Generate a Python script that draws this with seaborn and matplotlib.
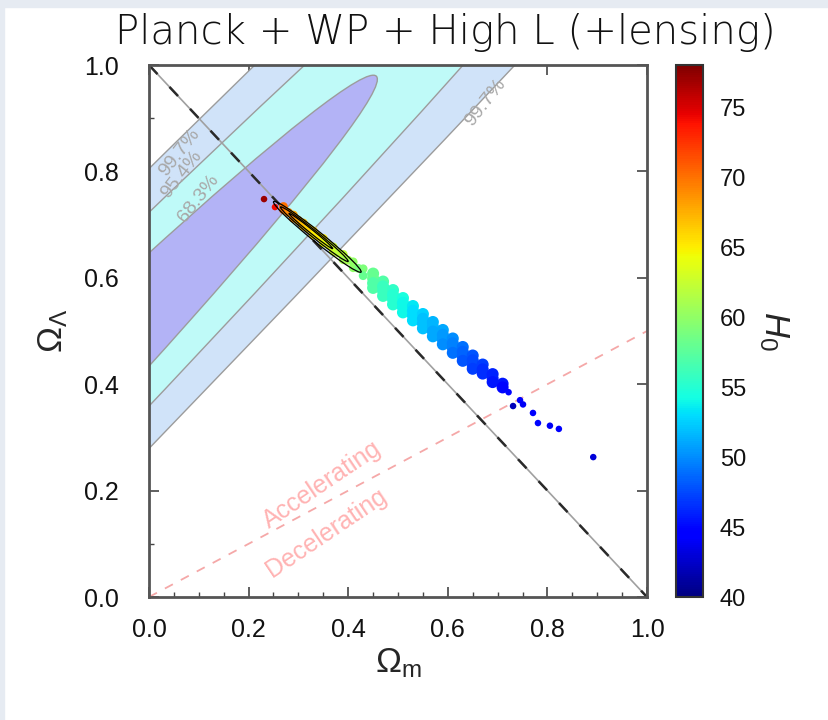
import matplotlib
matplotlib.use("Agg")
import matplotlib.pyplot as plt
import matplotlib.patches as mpatches
import seaborn as sns
import numpy as np
from matplotlib.colors import Normalize
from matplotlib.cm import ScalarMappable
from matplotlib.ticker import MultipleLocator

# confidence regions (data coords): centre, full widths, angle
conf_labels = ["99.7%", "95.4%", "68.3%"]
conf_colors = ["#d0e3f9", "#bffaf8", "#b3b3f6"]
conf_center = (-0.994, -0.398)
conf_width = [9.44, 6.02, 4.0]
conf_height = [0.399, 0.297, 0.212]
conf_angle = [43.5, 43.5, 43.5]

# flat universe and q0 = 0 lines
flat_om = [0.0, 1.0]
flat_ol = [1.0, 0.0]
acc_om = [0.0, 1.0]
acc_ol = [0.0, 0.5]

# MCMC samples: narrow head of the band
head_om = [0.27, 0.27, 0.28, 0.29, 0.29, 0.30, 0.31, 0.31, 0.32, 0.33, 0.33, 0.34,
           0.35, 0.35, 0.36, 0.37, 0.37, 0.38, 0.39, 0.39, 0.40, 0.41, 0.41, 0.42,
           0.43, 0.43]
head_ol = [0.734, 0.728, 0.723, 0.718, 0.712, 0.708, 0.703, 0.697, 0.693, 0.688, 0.681, 0.678,
           0.674, 0.666, 0.662, 0.658, 0.650, 0.647, 0.644, 0.634, 0.633, 0.630, 0.619, 0.618,
           0.617, 0.604]
head_h0 = [70, 70, 69, 68, 69, 68, 67, 67, 66, 66, 65, 65,
           65, 64, 64, 63, 63, 62, 62, 61, 61, 60, 60, 59,
           59, 58]

# wide body of the band
body_om = [0.45, 0.45, 0.45, 0.45, 0.47, 0.47, 0.47, 0.47,
           0.49, 0.49, 0.49, 0.49, 0.51, 0.51, 0.51, 0.51,
           0.53, 0.53, 0.53, 0.53, 0.55, 0.55, 0.55, 0.55,
           0.57, 0.57, 0.57, 0.57, 0.59, 0.59, 0.59, 0.59,
           0.61, 0.61, 0.61, 0.61, 0.63, 0.63, 0.63, 0.63,
           0.65, 0.65, 0.65, 0.65, 0.67, 0.67, 0.67,
           0.69, 0.69, 0.69, 0.71, 0.71]
body_ol = [0.608, 0.599, 0.590, 0.581, 0.593, 0.584, 0.575, 0.566,
           0.577, 0.568, 0.559, 0.550, 0.562, 0.553, 0.544, 0.535,
           0.547, 0.538, 0.529, 0.520, 0.532, 0.523, 0.514, 0.505,
           0.517, 0.508, 0.499, 0.490, 0.502, 0.493, 0.484, 0.475,
           0.486, 0.477, 0.468, 0.459, 0.470, 0.461, 0.452, 0.444,
           0.454, 0.445, 0.436, 0.429, 0.437, 0.428, 0.420,
           0.419, 0.411, 0.404, 0.401, 0.394]
body_h0 = [58, 58, 57, 57, 57, 56, 56, 56,
           55.5, 55, 55, 55, 54.5, 54, 54, 54,
           53.5, 53, 53, 53, 52.5, 52, 52, 52,
           51.5, 51.5, 51, 51, 51, 50.5, 50.5, 50,
           50, 49.5, 49.5, 49, 49, 48.5, 48.5, 48,
           48, 47.5, 47.5, 47, 47, 46.5, 46.5,
           46, 46, 45.5, 45.5, 45]

# isolated samples
out_om = [0.231, 0.253, 0.722, 0.731, 0.745, 0.751, 0.771, 0.781, 0.805, 0.823, 0.892]
out_ol = [0.748, 0.733, 0.385, 0.359, 0.370, 0.362, 0.346, 0.327, 0.322, 0.316, 0.263]
out_h0 = [77, 74, 45, 42, 44.5, 44, 44.5, 45, 44, 44.5, 43]

# density contours of the samples
cont_center_om = [0.338, 0.332, 0.325]
cont_center_ol = [0.677, 0.682, 0.688]
cont_len = [0.22, 0.17, 0.11]
cont_wid = [0.020, 0.013, 0.007]
cont_angle = -37.0

h0_min, h0_max = 40, 78
cbar_ticks = [40, 45, 50, 55, 60, 65, 70, 75]
jet = matplotlib.colormaps["jet"]

sns.set_theme(style="ticks")
plt.rcParams["font.family"] = ["Liberation Sans", "DejaVu Sans"]
plt.rcParams["mathtext.fontset"] = "custom"
plt.rcParams["mathtext.rm"] = "Liberation Sans"
plt.rcParams["mathtext.it"] = "Liberation Sans:italic"

fig = plt.figure(figsize=(8.29, 7.2), dpi=100)
fig.patches.append(mpatches.Rectangle((0, 0.99), 1, 0.01, transform=fig.transFigure,
                                      color="#e6ebf2", zorder=0))
fig.patches.append(mpatches.Rectangle((0, 0), 0.005, 1, transform=fig.transFigure,
                                      color="#e6ebf2", zorder=0))

ax = fig.add_axes([0.1797, 0.1708, 0.6008, 0.7389])

for i in range(3):
    ell = mpatches.Ellipse(conf_center, conf_width[i], conf_height[i], angle=conf_angle[i],
                           facecolor=conf_colors[i], edgecolor="#9c9c9c", lw=1.0, zorder=1)
    ax.add_patch(ell)

# flat line: grey with dark dashes
ax.plot(flat_om, flat_ol, color="#a0a0a0", lw=1.2, zorder=2)
ax.plot(flat_om, flat_ol, color="#2a2a2a", lw=1.8, dashes=(5, 7), zorder=2)
ax.plot(acc_om, acc_ol, color="#f5a8a8", lw=1.3, dashes=(5, 5), zorder=2)

scat_kw = dict(palette=jet, hue_norm=(h0_min, h0_max), linewidth=0, legend=False,
               ax=ax, zorder=3)
sns.scatterplot(x=head_om, y=head_ol, hue=head_h0, s=40, **scat_kw)
sns.scatterplot(x=body_om, y=body_ol, hue=body_h0, s=75, **scat_kw)
sns.scatterplot(x=out_om, y=out_ol, hue=out_h0, s=22, **scat_kw)

for i in range(3):
    ell = mpatches.Ellipse((cont_center_om[i], cont_center_ol[i]), cont_len[i], cont_wid[i],
                           angle=cont_angle, facecolor="none", edgecolor="black",
                           lw=0.9, zorder=4)
    ax.add_patch(ell)

# region labels
lab_kw = dict(color="#a8a8a8", fontsize=14, rotation=52, ha="center", va="center", zorder=2)
ax.text(0.062, 0.836, "99.7%", **lab_kw)
ax.text(0.066, 0.795, "95.4%", **lab_kw)
ax.text(0.100, 0.750, "68.3%", **lab_kw)
ax.text(0.675, 0.929, "99.7%", **lab_kw)

acc_kw = dict(color="#ffb3b3", fontsize=18, rotation=34, ha="center", va="center", zorder=2)
ax.text(0.347, 0.212, "Accelerating", **acc_kw)
ax.text(0.357, 0.120, "Decelerating", **acc_kw)

ax.set_xlim(0, 1)
ax.set_ylim(0, 1)
ax.xaxis.set_major_locator(MultipleLocator(0.2))
ax.yaxis.set_major_locator(MultipleLocator(0.2))
ax.xaxis.set_minor_locator(MultipleLocator(0.05))
ax.yaxis.set_minor_locator(MultipleLocator(0.1))
ax.tick_params(which="major", direction="in", length=7, width=1.2, color="#444444",
               top=True, right=True, labelsize=18, labelcolor="#111111")
ax.tick_params(axis="x", which="major", pad=15)
ax.tick_params(axis="y", which="major", pad=22)
ax.tick_params(which="minor", direction="in", length=3.5, width=1.0, color="#444444",
               top=False, right=False)
ax.set_xticklabels([f"{v:.1f}" for v in ax.get_xticks()])
ax.set_yticklabels([f"{v:.1f}" for v in ax.get_yticks()])
for sp in ax.spines.values():
    sp.set_color("#555555")
    sp.set_linewidth(2)
ax.set_xlabel(r"$\Omega_{\rm m}$", fontsize=25, labelpad=3)
ax.set_ylabel(r"$\Omega_\Lambda$", fontsize=25, labelpad=10)

cax = fig.add_axes([0.8154, 0.1708, 0.0326, 0.7389])
sm = ScalarMappable(norm=Normalize(h0_min, h0_max), cmap=jet)
cb = fig.colorbar(sm, cax=cax, ticks=cbar_ticks)
cb.outline.set_edgecolor("#333333")
cb.outline.set_linewidth(1.5)
cax.tick_params(direction="in", length=9, width=1.2, color="#222222",
                labelsize=17, labelcolor="#111111", pad=12)
cb.set_label(r"$H_0$", fontsize=25, rotation=270, labelpad=32)

fig.text(0.537, 0.955, "Planck + WP + High L (+lensing)", ha="center", va="center",
         fontsize=29, family=["DejaVu Sans"], weight="light", color="#111111")

fig.savefig("out.png", dpi=100)
